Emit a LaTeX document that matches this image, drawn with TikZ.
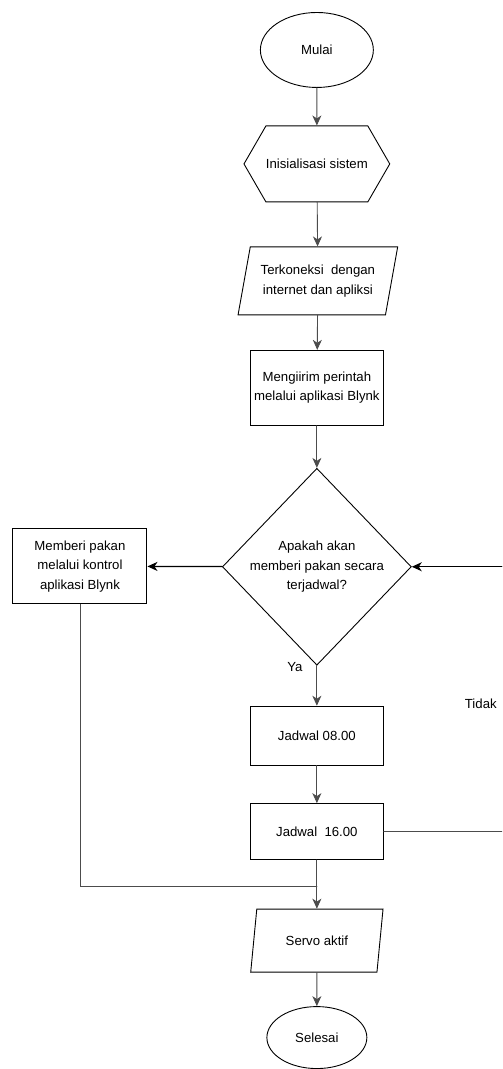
\documentclass[tikz,border=0pt]{standalone}
\usepackage{fontspec}
\setmainfont{Liberation Sans}
\usetikzlibrary{shapes.geometric,shapes.symbols,arrows.meta}

\begin{document}
\begin{tikzpicture}[x=1pt,y=-1pt,line cap=round,>={Stealth[length=10pt,width=9pt,inset=3pt]},
  every node/.style={font=\fontsize{13.2}{19.5}\selectfont,align=center,inner sep=0pt},
  terminal/.style={draw,line width=0.9pt,ellipse},
  prep/.style={draw,line width=0.9pt,signal,signal to=east and west,signal pointer angle=120},
  io/.style={draw,line width=0.9pt,trapezium,trapezium left angle=72,trapezium right angle=108,trapezium stretches=true},
  box/.style={draw,line width=1pt,rectangle},
  decision/.style={draw,line width=0.9pt,diamond},
  conn/.style={line width=0.9pt,draw=black!70},
  thick conn/.style={line width=1.2pt,draw=black}]
  \fill[white] (0,0) rectangle (502,1069);

  \node[terminal, minimum width=113pt, minimum height=75pt] (mulai) at (317,50) {Mulai};
  \node[prep, minimum width=133pt, minimum height=76pt] (init) at (317,164) {Inisialisasi sistem};
  \node[io, minimum width=160pt, minimum height=68pt] (konek) at (318,281) {Terkoneksi\ \ dengan\\internet dan apliksi};
  \node[box, minimum width=133pt, minimum height=75pt] (kirim) at (317,388) {Mengiirim perintah\\melalui aplikasi Blynk};
  \node[decision, minimum width=189pt, minimum height=197pt] (tanya) at (317,567) {Apakah akan\\memberi pakan secara\\terjadwal?};
  \node[box, minimum width=134pt, minimum height=75pt] (manual) at (80,566.5) {Memberi pakan\\melalui kontrol\\aplikasi Blynk};
  \node[box, minimum width=133pt, minimum height=59pt] (j08) at (317,736) {Jadwal 08.00};
  \node[box, minimum width=133pt, minimum height=56pt] (j16) at (317,832) {Jadwal\ \ 16.00};
  \node[io, minimum width=133pt, minimum height=63pt] (servo) at (317,941) {Servo aktif};
  \node[terminal, minimum width=100pt, minimum height=62pt] (selesai) at (317,1038) {Selesai};

  \node (ya) at (295,667) {Ya};
  \node (tidak) at (481,704) {Tidak};

  \coordinate (join) at (317,887);
  \coordinate (tidakout) at (502,832);
  \coordinate (tidakin) at (502,567);

  % alur utama
  \draw[conn,->] (mulai) -- (init);
  \draw[conn,->] (init) -- (konek);
  \draw[conn,->] (konek) -- (kirim);
  \draw[conn,->] (kirim) -- (tanya);
  \draw[thick conn,->] (tanya) -- (manual);
  \draw[conn,->] (tanya) -- (j08);
  \draw[conn,->] (j08) -- (j16);
  \draw[conn,->] (j16) -- (servo);
  \draw[conn,->] (servo) -- (selesai);
  % cabang manual dan tidak
  \draw[conn] (manual.south) |- (join);
  \draw[conn] (j16.east) -- (tidakout);
  \draw[thick conn,->] (tidakin) -- (tanya.east);
\end{tikzpicture}
\end{document}
